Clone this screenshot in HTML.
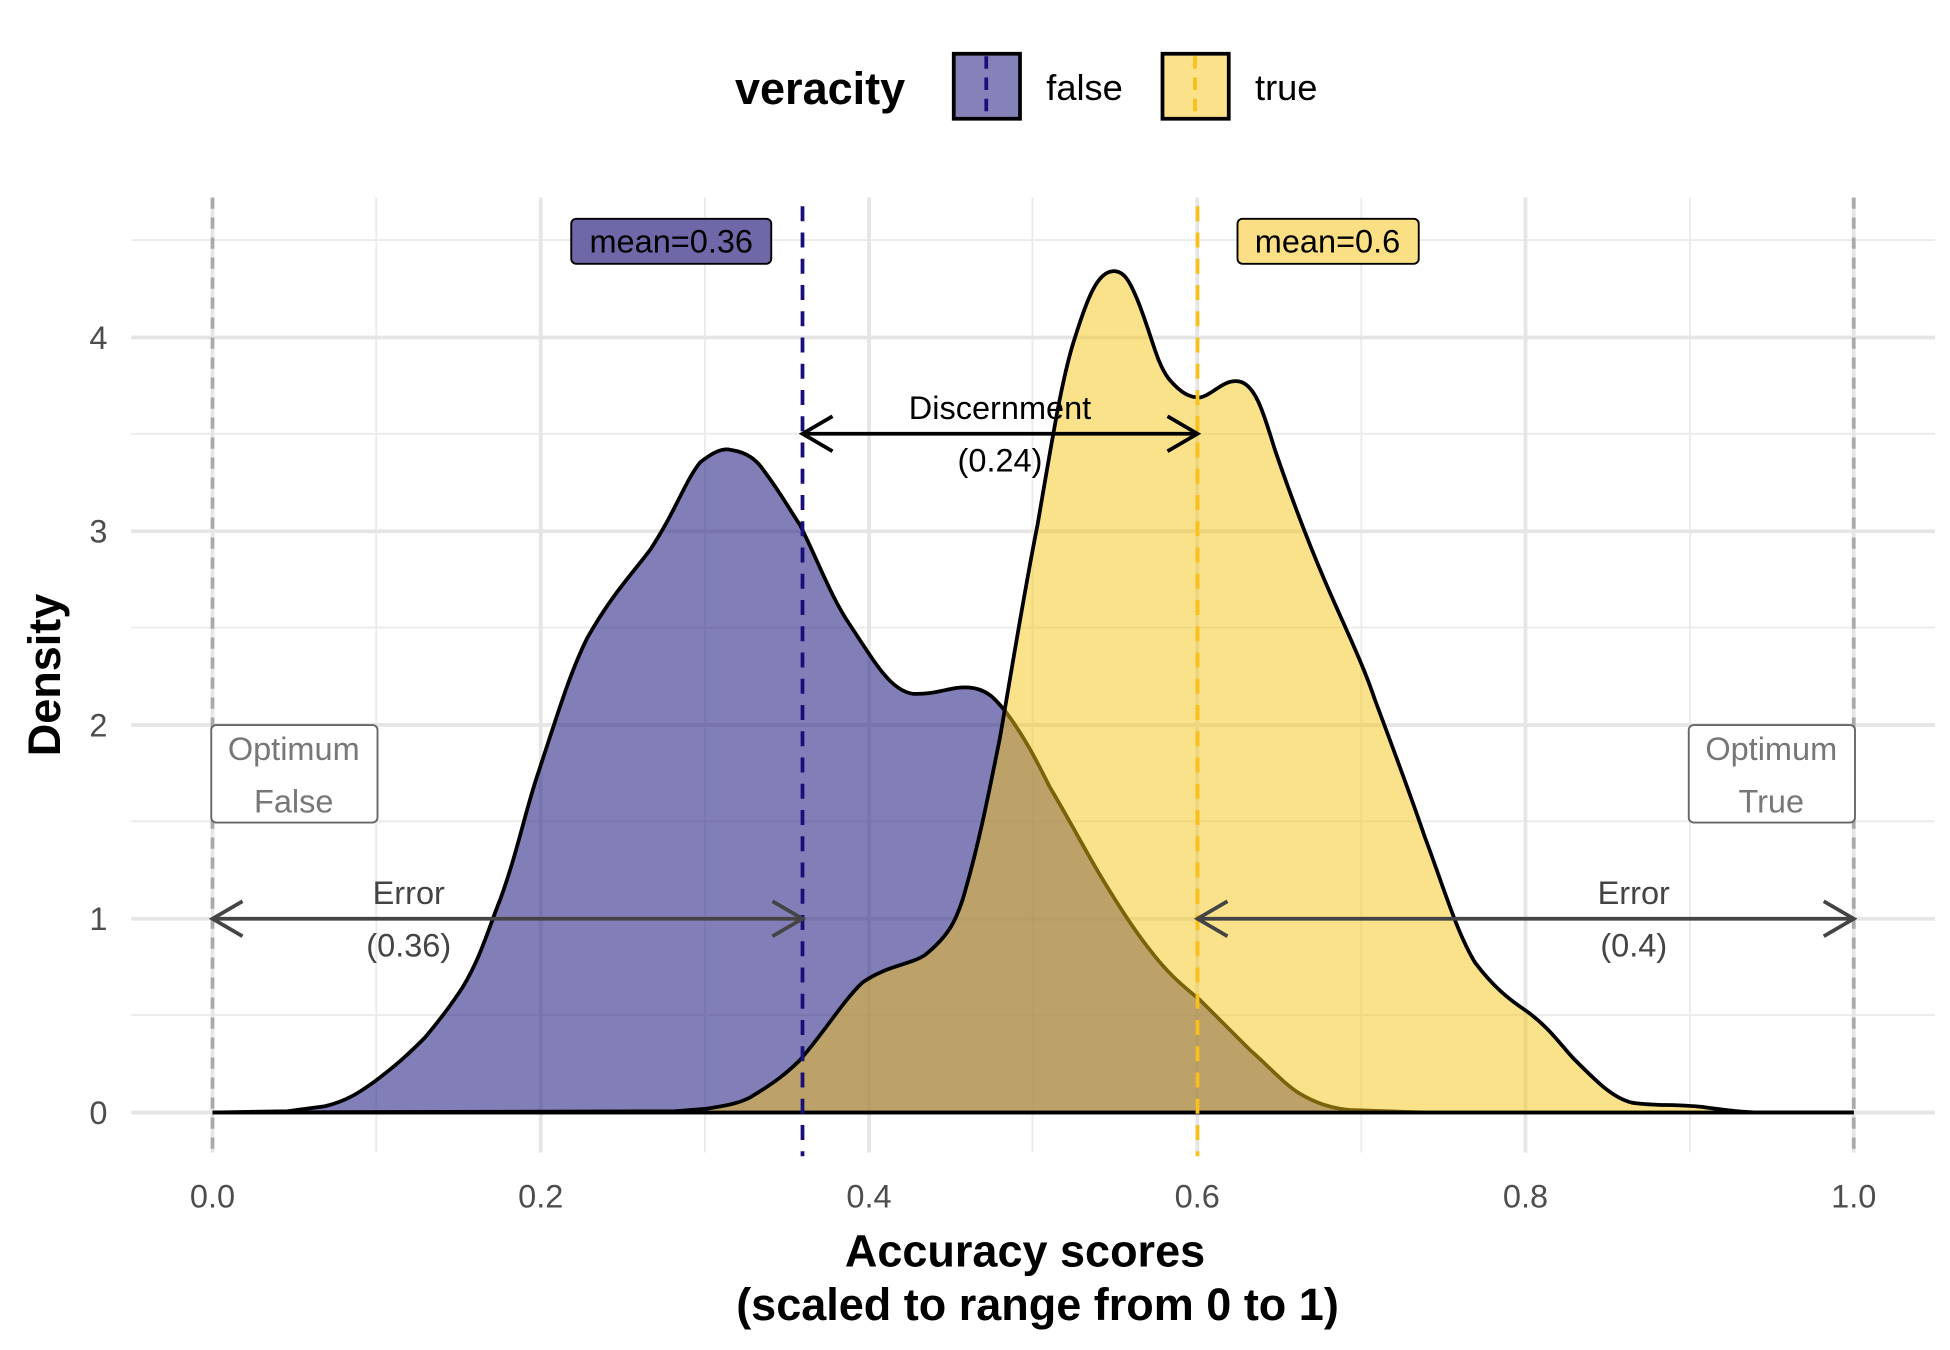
<!DOCTYPE html>
<html><head><meta charset="utf-8"><style>body{margin:0;background:#fff}svg{display:block}text{font-family:"Liberation Sans",sans-serif}</style></head>
<body>
<svg width="1950" height="1350" viewBox="0 0 1560 1080" xmlns="http://www.w3.org/2000/svg">
<rect width="1560" height="1080" fill="#fff"/>
<g stroke="#ebebeb" stroke-width="1.5">
<line x1="105" x2="1548" y1="812" y2="812"/><line x1="105" x2="1548" y1="657" y2="657"/><line x1="105" x2="1548" y1="502" y2="502"/><line x1="105" x2="1548" y1="347" y2="347"/><line x1="105" x2="1548" y1="192" y2="192"/>
<line x1="301" x2="301" y1="158" y2="922"/><line x1="564" x2="564" y1="158" y2="922"/><line x1="826" x2="826" y1="158" y2="922"/><line x1="1089" x2="1089" y1="158" y2="922"/><line x1="1352" x2="1352" y1="158" y2="922"/>
</g>
<g stroke="#e5e5e5" stroke-width="3">
<line x1="105" x2="1548" y1="890" y2="890"/><line x1="105" x2="1548" y1="735" y2="735"/><line x1="105" x2="1548" y1="580" y2="580"/><line x1="105" x2="1548" y1="425" y2="425"/><line x1="105" x2="1548" y1="270" y2="270"/>
<line x1="170" x2="170" y1="158" y2="922"/><line x1="432.6" x2="432.6" y1="158" y2="922"/><line x1="695.2" x2="695.2" y1="158" y2="922"/><line x1="957.8" x2="957.8" y1="158" y2="922"/><line x1="1220.4" x2="1220.4" y1="158" y2="922"/><line x1="1483" x2="1483" y1="158" y2="922"/>
</g>
<path d="M170,890 L230,889 L260,885 C280,880 290,872 300,865 C320,850 330,840 340,830 C355,812 362,802 370,790 C385,765 390,745 400,720 C413,685 420,650 430,620 C445,575 455,540 470,510 C490,475 505,460 520,440 C540,410 548,385 560,370 C570,362 578,358 585,360 C598,362 605,368 610,375 C625,395 630,405 640,420 C655,450 665,478 680,500 C700,530 712,552 730,555 C750,556 760,549 775,550 C790,551 797,560 805,570 C820,590 830,610 840,630 C855,655 868,680 880,700 C895,725 908,745 920,760 C935,780 948,790 960,800 C975,815 988,828 1000,840 C1015,853 1028,868 1040,875 C1055,884 1068,887 1080,888 L1140,890 L1483,890 Z" fill="#2f2a88" fill-opacity="0.6" stroke="#000" stroke-width="3"/>
<path d="M170,890 L540,889 L565,887 C585,884 592,882 600,878 C620,866 630,858 640,848 C660,825 675,800 690,786 C710,772 728,772 740,764 C760,748 765,735 770,720 C782,680 790,640 800,590 C812,520 820,470 830,420 C842,350 850,300 860,270 C870,238 878,218 890,217 C900,216 905,228 910,240 C922,270 925,290 935,303 C945,315 952,318 960,318 C970,316 978,304 990,305 C1005,306 1012,335 1020,360 C1032,395 1045,430 1060,465 C1075,500 1090,530 1100,560 C1115,600 1128,635 1140,670 C1155,710 1165,745 1180,770 C1195,790 1208,800 1220,808 C1240,822 1250,838 1260,848 C1278,866 1290,878 1305,882 C1320,885 1345,883 1365,886 C1380,888 1395,890 1410,890 L1483,890 Z" fill="#f5c518" fill-opacity="0.5" stroke="#000" stroke-width="3"/>
<line x1="170" x2="170" y1="158" y2="925" stroke="#aaa" stroke-width="3" stroke-dasharray="9,7"/>
<line x1="1483" x2="1483" y1="158" y2="925" stroke="#aaa" stroke-width="3" stroke-dasharray="9,7"/>
<line x1="642" x2="642" y1="165" y2="925" stroke="#1a0f7a" stroke-width="3" stroke-dasharray="12,9"/>
<line x1="958" x2="958" y1="165" y2="925" stroke="#f9bf1a" stroke-width="3" stroke-dasharray="12,9"/>
<g stroke="#000" stroke-width="3" fill="none">
<line x1="642" x2="958" y1="347" y2="347"/><polyline points="666,333 642,347 666,361"/><polyline points="934,333 958,347 934,361"/>
</g>
<g stroke="#444" stroke-width="3" fill="none">
<line x1="170" x2="642" y1="735" y2="735"/><polyline points="194,721 170,735 194,749"/><polyline points="618,721 642,735 618,749"/>
<line x1="958" x2="1483" y1="735" y2="735"/><polyline points="982,721 958,735 982,749"/><polyline points="1459,721 1483,735 1459,749"/>
</g>
<g font-size="26" text-anchor="middle">
<text x="800" y="335">Discernment</text><text x="800" y="377">(0.24)</text>
<text x="327" y="723" fill="#444">Error</text><text x="327" y="765" fill="#444">(0.36)</text>
<text x="1307" y="723" fill="#444">Error</text><text x="1307" y="765" fill="#444">(0.4)</text>
</g>
<rect x="169" y="580" width="133" height="78" rx="4" fill="#fff" stroke="#666" stroke-width="1.5"/>
<rect x="1351" y="580" width="133" height="78" rx="4" fill="#fff" stroke="#666" stroke-width="1.5"/>
<g font-size="26" text-anchor="middle" fill="#777">
<text x="235" y="608">Optimum</text><text x="235" y="650">False</text>
<text x="1417" y="608">Optimum</text><text x="1417" y="650">True</text>
</g>
<rect x="457" y="175" width="160" height="36" rx="4" fill="#6e68a8" stroke="#000" stroke-width="1.5"/>
<text x="537" y="202" font-size="26" text-anchor="middle">mean=0.36</text>
<rect x="990" y="175" width="145" height="36" rx="4" fill="#fadf85" stroke="#000" stroke-width="1.5"/>
<text x="1062" y="202" font-size="26" text-anchor="middle">mean=0.6</text>
<g font-size="26" fill="#4d4d4d" text-anchor="middle">
<text x="170" y="966">0.0</text><text x="432.6" y="966">0.2</text><text x="695.2" y="966">0.4</text><text x="957.8" y="966">0.6</text><text x="1220.4" y="966">0.8</text><text x="1483" y="966">1.0</text>
</g>
<g font-size="26" fill="#4d4d4d" text-anchor="end">
<text x="86" y="899">0</text><text x="86" y="744">1</text><text x="86" y="589">2</text><text x="86" y="434">3</text><text x="86" y="279">4</text>
</g>
<g font-size="36" font-weight="bold" text-anchor="middle">
<text x="820" y="1013">Accuracy scores</text>
<text x="830" y="1056">(scaled to range from 0 to 1)</text>
<text transform="translate(48,540) rotate(-90)">Density</text>
</g>
<text x="588" y="83" font-size="36" font-weight="bold">veracity</text>
<rect x="763" y="43" width="53" height="52" fill="#8581b9" stroke="#000" stroke-width="3"/>
<line x1="789" x2="789" y1="45" y2="95" stroke="#1a0f7a" stroke-width="3" stroke-dasharray="10,7"/>
<text x="837" y="80" font-size="29">false</text>
<rect x="930" y="43" width="53" height="52" fill="#fae18a" stroke="#000" stroke-width="3"/>
<line x1="956" x2="956" y1="45" y2="95" stroke="#f9bf1a" stroke-width="3" stroke-dasharray="10,7"/>
<text x="1004" y="80" font-size="29">true</text>
</svg>
</body></html>
